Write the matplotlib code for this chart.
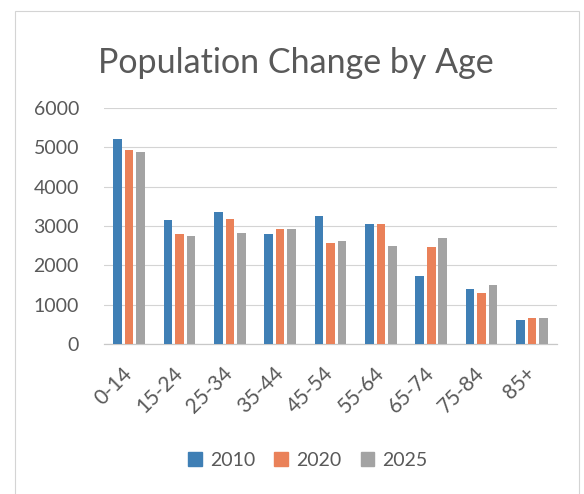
import numpy as np
import matplotlib.pyplot as plt
import matplotlib.patches as mpatches

plt.rcParams['font.family'] = ['Lato', 'DejaVu Sans']

# data
age_groups = ["0-14", "15-24", "25-34", "35-44", "45-54", "55-64", "65-74", "75-84", "85+"]
pop_2010 = [5220, 3150, 3350, 2790, 3260, 3050, 1720, 1400, 610]
pop_2020 = [4920, 2790, 3170, 2920, 2560, 3050, 2470, 1290, 670]
pop_2025 = [4880, 2750, 2820, 2920, 2610, 2490, 2700, 1500, 670]
years = ["2010", "2020", "2025"]
y_ticks = [0, 1000, 2000, 3000, 4000, 5000, 6000]

colors = ['#3f7fb5', '#ea8159', '#a3a3a3']
text_col = '#595959'

fig = plt.figure(figsize=(5.84, 4.94), dpi=100)
ax = fig.add_axes([0.178, 0.3036, 0.776, 0.4778])

# faint chart frame like the printed office chart
fig.patches.append(mpatches.Rectangle((15 / 584, -0.01), (579 - 15) / 584, 1 - 11 / 494 + 0.01,
                                      transform=fig.transFigure, fill=False,
                                      edgecolor='#d4d4d4', linewidth=0.8))

x = np.arange(len(age_groups))
w = 0.17
step = 0.228
for i, (vals, c, lab) in enumerate(zip([pop_2010, pop_2020, pop_2025], colors, years)):
    ax.bar(x + (i - 1) * step, vals, width=w, color=c, label=lab, zorder=3)

ax.set_xlim(-0.5, len(age_groups) - 0.5)
ax.set_ylim(0, 6000)
ax.set_yticks(y_ticks)
ax.set_yticklabels([str(v) for v in y_ticks])
ax.yaxis.grid(True, color='#d4d4d4', linewidth=0.8, zorder=0)
ax.set_axisbelow(True)
for s in ['top', 'right', 'left']:
    ax.spines[s].set_visible(False)
ax.spines['bottom'].set_color('#c8c8c8')
ax.spines['bottom'].set_linewidth(0.9)

ax.tick_params(axis='both', length=0, labelsize=14, labelcolor=text_col)
ax.tick_params(axis='y', pad=18)
ax.set_xticks(x)
ax.set_xticklabels(age_groups, rotation=45, ha='right', va='center', rotation_mode='anchor',
                   fontsize=15)
ax.tick_params(axis='x', pad=19)

fig.text(0.506, 1 - 72.6 / 494, "Population Change by Age", ha='center', va='baseline',
         fontsize=24.5, color=text_col)

handles = [mpatches.Patch(color=c) for c in colors]
fig.legend(handles, years, loc='center', bbox_to_anchor=(0.527, 1 - 460 / 494), ncol=3,
           frameon=False, fontsize=14, labelcolor=text_col, handlelength=0.7, handleheight=0.7,
           handletextpad=0.4, columnspacing=1.0)

fig.savefig('out.png', dpi=100)
